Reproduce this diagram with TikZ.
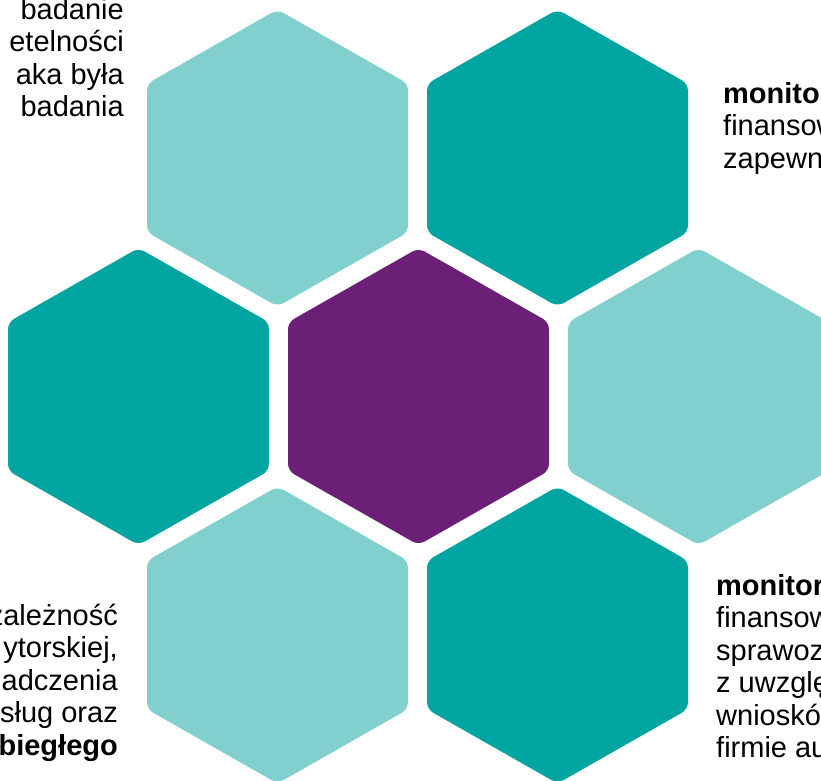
\documentclass[tikz,border=0pt]{standalone}
\usepackage{fontspec}
\setmainfont{Liberation Sans}
\definecolor{lightteal}{HTML}{81D0CE}
\definecolor{darkteal}{HTML}{00A4A1}
\definecolor{hexpurple}{HTML}{6C1F77}
\tikzset{
  hexfill/.style={fill=#1, draw=none, rounded corners=7pt},
  txt/.style={font=\fontsize{29}{33}\selectfont, inner sep=0pt, text=black},
  txtL/.style={txt, anchor=base east},
  txtR/.style={txt, anchor=base west}
}
\newcommand{\hexat}[3]{%
  \path[hexfill=#3] (#1,#2-148.5) -- (#1+130.5,#2-74.25) -- (#1+130.5,#2+74.25)
    -- (#1,#2+148.5) -- (#1-130.5,#2+74.25) -- (#1-130.5,#2-74.25) -- cycle;}
\begin{document}
\begin{tikzpicture}[x=1pt,y=-1pt]
\useasboundingbox (0,0) rectangle (821,780);
\clip (0,0) rectangle (821,780);
% hexagons
\hexat{277.5}{158}{lightteal}
\hexat{557.5}{158}{darkteal}
\hexat{138.5}{396.5}{darkteal}
\hexat{418.5}{396.5}{hexpurple}
\hexat{698.5}{396.5}{lightteal}
\hexat{277.5}{635}{lightteal}
\hexat{557.5}{635}{darkteal}
% top-left text
\node[txtL] (tl1) at (124,19) {badanie};
\node[txtL] (tl2) at (124,51.5) {etelności};
\node[txtL] (tl3) at (124,84) {aka była};
\node[txtL] (tl4) at (124,116.5) {badania};
% top-right text
\node[txtR] (tr1) at (723,103) {\bfseries monito};
\node[txtR] (tr2) at (723,135.5) {finansow};
\node[txtR] (tr3) at (723,168) {zapewn};
% bottom-left text
\node[txtL] (bl1) at (118,625) {zależność};
\node[txtL] (bl2) at (118,657.5) {ytorskiej,};
\node[txtL] (bl3) at (118,690) {adczenia};
\node[txtL] (bl4) at (118,722.5) {sług oraz};
\node[txtL] (bl5) at (118,755) {\bfseries biegłego};
% bottom-right text
\node[txtR] (br1) at (716,595) {\bfseries monitor};
\node[txtR] (br2) at (716,627.5) {finansow};
\node[txtR] (br3) at (716,660) {sprawoz};
\node[txtR] (br4) at (716,692.5) {z uwzględ};
\node[txtR] (br5) at (716,725) {wnioskó};
\node[txtR] (br6) at (716,757.5) {firmie au};
\end{tikzpicture}
\end{document}
